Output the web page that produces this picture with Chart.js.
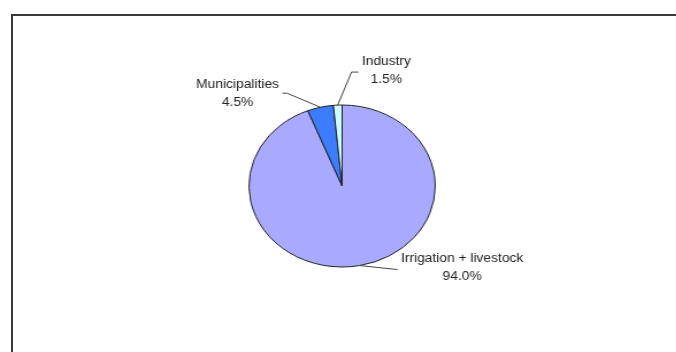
<!DOCTYPE html>
<html>
<head>
<meta charset="utf-8">
<script src="https://cdn.jsdelivr.net/npm/chart.js@4.4.1/dist/chart.umd.min.js"></script>
<style>
  html, body { margin: 0; padding: 0; background: #fff; }
  body { width: 676px; height: 352px; position: relative; overflow: hidden; }
  #frame {
    position: absolute; left: 11px; top: 14px; width: 700px; height: 400px;
    border-top: 2px solid #3a3a3a; border-left: 2px solid #3a3a3a;
  }
  /* the original picture is stretched sideways, so the whole chart is too */
  #stretch {
    position: absolute; left: 0; top: 0; width: 588px; height: 352px;
    transform: scaleX(1.15); transform-origin: 0 0;
  }
</style>
</head>
<body>
<div id="frame"></div>
<div id="stretch"><canvas id="pie"></canvas></div>
<script>
// Data
const categories = ["Irrigation + livestock", "Municipalities", "Industry"];
const shares = [94.0, 4.5, 1.5];
const sliceColors = ["#a9a9ff", "#3c7dff", "#ccffff"];

// Where each label sits, relative to the point where its leader line leaves the pie
const labelLayout = [
  { elbow: [33, 4], end: [33, 4], side: "right", textDy: -2 },
  { elbow: [-29, -14], end: [-33, -14], side: "left", textDy: 0 },
  { elbow: [12, -33], end: [18, -33], side: "right", textDy: -1 },
];

// Draw the "name / percent" labels with leader lines
const sliceLabels = {
  id: "sliceLabels",
  afterDatasetsDraw(chart) {
    const ctx = chart.ctx;
    const arcs = chart.getDatasetMeta(0).data;
    ctx.save();
    ctx.font = "12px 'Liberation Sans', Arial, sans-serif";
    ctx.textBaseline = "middle";
    ctx.textAlign = "center";
    arcs.forEach((arc, i) => {
      const p = arc.getProps(["x", "y", "startAngle", "endAngle", "outerRadius"], true);
      const mid = (p.startAngle + p.endAngle) / 2;
      const ex = p.x + Math.cos(mid) * p.outerRadius;
      const ey = p.y + Math.sin(mid) * p.outerRadius;
      const lay = labelLayout[i];

      // Leader line
      ctx.strokeStyle = "#444";
      ctx.lineWidth = 1;
      ctx.beginPath();
      ctx.moveTo(ex, ey);
      ctx.lineTo(ex + lay.elbow[0], ey + lay.elbow[1]);
      ctx.lineTo(ex + lay.end[0], ey + lay.end[1]);
      ctx.stroke();

      // Two-line label, lines centred on each other
      const lines = [categories[i], shares[i].toFixed(1) + "%"];
      const w = Math.max(...lines.map((t) => ctx.measureText(t).width));
      const endX = ex + lay.end[0];
      const cx = lay.side === "left" ? endX - 3 - w / 2 : endX + 3 + w / 2;
      const cy = ey + lay.end[1] + lay.textDy;
      ctx.fillStyle = "#222";
      ctx.fillText(lines[0], cx, cy - 9);
      ctx.fillText(lines[1], cx, cy + 9);
    });
    ctx.restore();
  },
};

new Chart(document.getElementById("pie"), {
  type: "pie",
  data: {
    labels: categories,
    datasets: [
      {
        data: shares,
        backgroundColor: sliceColors,
        borderColor: "#222",
        borderWidth: 1,
      },
    ],
  },
  options: {
    responsive: true,
    maintainAspectRatio: false,
    animation: false,
    radius: 81,
    layout: { padding: { left: 7, right: 0, top: 20, bottom: 0 } },
    plugins: {
      legend: { display: false },
      tooltip: { enabled: false },
    },
  },
  plugins: [sliceLabels],
});
</script>
</body>
</html>
